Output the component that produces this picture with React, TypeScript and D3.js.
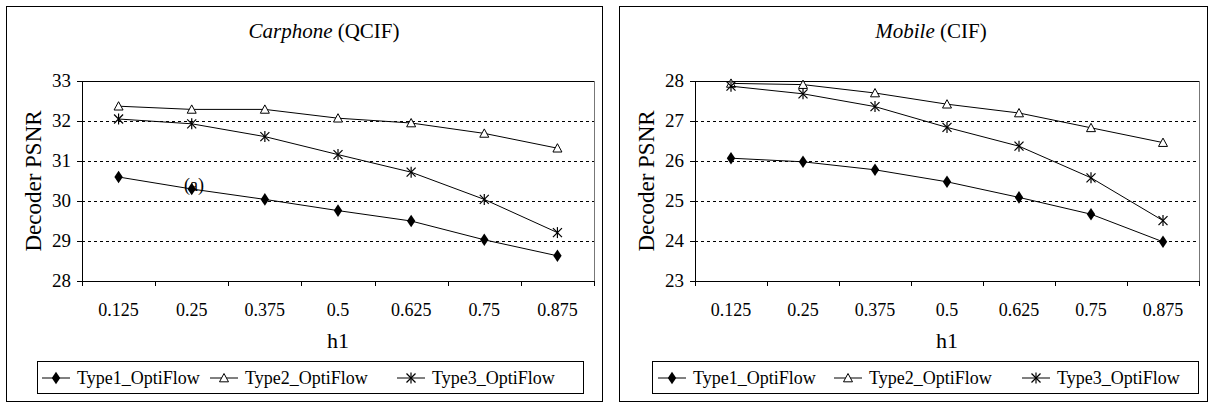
import React from "react";
import { scaleBand, scaleLinear, line, symbol, symbolDiamond, range } from "d3";

const categories = ["0.125", "0.25", "0.375", "0.5", "0.625", "0.75", "0.875"];
const seriesNames = ["Type1_OptiFlow", "Type2_OptiFlow", "Type3_OptiFlow"];

const carphoneType1 = [30.6, 30.3, 30.04, 29.76, 29.5, 29.03, 28.63];
const carphoneType2 = [32.37, 32.29, 32.29, 32.07, 31.95, 31.69, 31.32];
const carphoneType3 = [32.05, 31.93, 31.61, 31.16, 30.72, 30.04, 29.21];

const mobileType1 = [26.07, 25.98, 25.78, 25.48, 25.09, 24.67, 23.98];
const mobileType2 = [27.94, 27.91, 27.7, 27.42, 27.2, 26.83, 26.46];
const mobileType3 = [27.87, 27.68, 27.36, 26.84, 26.37, 25.58, 24.51];

const FONT = '"Liberation Serif", "Times New Roman", serif';

function Marker({ kind, x, y }) {
  if (kind === 0) {
    const d = symbol().type(symbolDiamond).size(46)();
    return <path d={d} transform={`translate(${x},${y}) scale(1.15,1)`} fill="#000" />;
  }
  if (kind === 1) {
    const s = 4.5;
    return (
      <path
        d={`M${x},${y - s}L${x + s},${y + s * 0.85}L${x - s},${y + s * 0.85}Z`}
        fill="#fff"
        stroke="#000"
        strokeWidth={1}
      />
    );
  }
  const r = 4.5;
  return (
    <g stroke="#000" strokeWidth={1.2}>
      <line x1={x - r} y1={y - r} x2={x + r} y2={y + r} />
      <line x1={x - r} y1={y + r} x2={x + r} y2={y - r} />
      <line x1={x} y1={y - r - 1} x2={x} y2={y + r + 1} />
    </g>
  );
}

function Panel({ left, width, title, titleSub, titleX, yMin, series, legendX, legendW, legendItems }) {
  const top = 6;
  const height = 395;
  const plotLeft = left + 76;
  const plotRight = left + width - 8;
  const plotTop = 81;
  const plotBottom = 281;

  const x = scaleBand().domain(categories).range([plotLeft, plotRight]);
  const y = scaleLinear().domain([yMin, yMin + 5]).range([plotBottom, plotTop]);
  const cx = (c) => x(c) + x.bandwidth() / 2;
  const yTicks = range(yMin, yMin + 6);
  const path = line()
    .x((d, i) => cx(categories[i]))
    .y((d) => y(d));

  const bounds = categories.map((c) => x(c)).concat([plotRight]);

  return (
    <g>
      <rect x={left + 0.5} y={top + 0.5} width={width} height={height} fill="#fff" stroke="#000" strokeWidth={1} />
      <text x={titleX} y={38} textAnchor="middle" fontSize={21} fontFamily={FONT}>
        <tspan fontStyle="italic">{title}</tspan> {titleSub}
      </text>

      {yTicks.slice(1, -1).map((t) => (
        <line
          key={t}
          x1={plotLeft}
          x2={plotRight}
          y1={Math.round(y(t)) + 0.5}
          y2={Math.round(y(t)) + 0.5}
          stroke="#000"
          strokeWidth={1}
          strokeDasharray="3,3"
        />
      ))}
      <line x1={plotLeft} x2={plotRight} y1={plotTop + 0.5} y2={plotTop + 0.5} stroke="#000" />
      <line x1={plotRight + 0.5} x2={plotRight + 0.5} y1={plotTop} y2={plotBottom} stroke="#777" />
      <line x1={plotLeft + 0.5} x2={plotLeft + 0.5} y1={plotTop} y2={plotBottom + 1} stroke="#000" />
      <line x1={plotLeft} x2={plotRight + 1} y1={plotBottom + 0.5} y2={plotBottom + 0.5} stroke="#000" />

      {yTicks.map((t) => (
        <g key={t}>
          <line x1={plotLeft - 5} x2={plotLeft} y1={Math.round(y(t)) + 0.5} y2={Math.round(y(t)) + 0.5} stroke="#000" />
          <text x={plotLeft - 11} y={y(t) + 6} textAnchor="end" fontSize={19} fontFamily={FONT}>
            {t}
          </text>
        </g>
      ))}
      {bounds.map((b, i) => (
        <line key={i} x1={Math.round(b) + 0.5} x2={Math.round(b) + 0.5} y1={plotBottom} y2={plotBottom + 5} stroke="#000" />
      ))}
      {categories.map((c) => (
        <text key={c} x={cx(c)} y={316} textAnchor="middle" fontSize={18} fontFamily={FONT}>
          {c}
        </text>
      ))}

      <text x={plotLeft + (plotRight - plotLeft) / 2} y={348} textAnchor="middle" fontSize={22} fontFamily={FONT}>
        h1
      </text>
      <text
        transform={`translate(${left + 35},${181}) rotate(-90)`}
        textAnchor="middle"
        fontSize={23}
        fontFamily={FONT}
      >
        Decoder PSNR
      </text>

      {series.map((s, k) => (
        <g key={k}>
          <path d={path(s)} fill="none" stroke="#000" strokeWidth={1} />
          {s.map((v, i) => (
            <Marker key={i} kind={k} x={cx(categories[i])} y={y(v)} />
          ))}
        </g>
      ))}

      <rect x={legendX + 0.5} y={361.5} width={legendW} height={32} fill="#fff" stroke="#000" strokeWidth={1} />
      {seriesNames.map((n, k) => (
        <g key={n}>
          <line x1={legendItems[k]} x2={legendItems[k] + 28} y1={378} y2={378} stroke="#000" />
          <Marker kind={k} x={legendItems[k] + 14} y={378} />
          <text x={legendItems[k] + 35} y={384} fontSize={18} fontFamily={FONT}>
            {n}
          </text>
        </g>
      ))}
    </g>
  );
}

export default function App() {
  return (
    <svg
      width={1209}
      height={403}
      style={{ position: "absolute", left: 0, top: 0, background: "#fff" }}
    >
      <rect width={1209} height={403} fill="#fff" />
      <Panel
        left={6}
        width={596}
        title="Carphone"
        titleSub="(QCIF)"
        titleX={324}
        yMin={28}
        series={[carphoneType1, carphoneType2, carphoneType3]}
        legendX={37}
        legendW={546}
        legendItems={[42, 210, 397]}
      />
      <text x={184} y={191} fontFamily={FONT} fontSize={18}>
        (a)
      </text>
      <Panel
        left={619}
        width={588}
        title="Mobile"
        titleSub="(CIF)"
        titleX={931}
        yMin={23}
        series={[mobileType1, mobileType2, mobileType3]}
        legendX={652}
        legendW={546}
        legendItems={[658, 834, 1022]}
      />
    </svg>
  );
}
